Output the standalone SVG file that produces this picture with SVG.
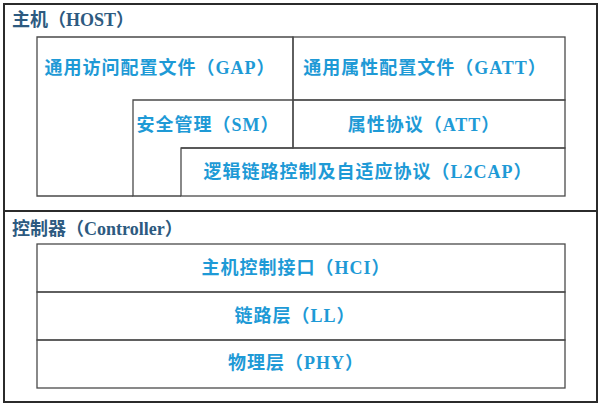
<svg xmlns="http://www.w3.org/2000/svg" width="600" height="407" viewBox="0 0 600 407">
<style>
  .frame{fill:none;stroke:#2b2b2b;stroke-width:2}
  .box{fill:none;stroke:#4a4a4a;stroke-width:1.3}
  .t{font-family:"Liberation Serif","Noto Sans CJK SC",serif;font-weight:bold;font-size:18px;fill:#1e9ad6;text-anchor:middle;dominant-baseline:central;letter-spacing:1px}
  .title{font-family:"Liberation Serif","Noto Sans CJK SC",serif;font-weight:bold;font-size:18px;fill:#2d5a80;dominant-baseline:central}
</style>
<rect width="600" height="407" fill="#ffffff"/>
<g id="host">
  <rect class="frame" x="4" y="4" width="593" height="207"/>
  <text class="title" x="12" y="20">主机（HOST）</text>
</g>
<g id="controller">
  <rect class="frame" x="4" y="211" width="593" height="191"/>
  <text class="title" x="12" y="229">控制器（Controller）</text>
</g>
<g id="gap">
  <polyline class="box" points="293,100 293,37 37,37 37,196 133,196"/>
  <text class="t" x="160" y="68">通用访问配置文件（GAP）</text>
</g>
<g id="gatt">
  <rect class="box" x="293" y="37" width="272" height="63"/>
  <text class="t" x="425" y="68">通用属性配置文件（GATT）</text>
</g>
<g id="sm">
  <polyline class="box" points="181,148 293,148 293,100 133,100 133,196 181,196"/>
  <text class="t" x="208" y="125">安全管理（SM）</text>
</g>
<g id="att">
  <rect class="box" x="293" y="100" width="272" height="48"/>
  <text class="t" x="424" y="125">属性协议（ATT）</text>
</g>
<g id="l2cap">
  <rect class="box" x="181" y="148" width="384" height="48"/>
  <text class="t" x="368" y="172">逻辑链路控制及自适应协议（L2CAP）</text>
</g>
<g id="hci">
  <rect class="box" x="37" y="244" width="528" height="48"/>
  <text class="t" x="296" y="268">主机控制接口（HCI）</text>
</g>
<g id="ll">
  <rect class="box" x="37" y="292" width="528" height="48"/>
  <text class="t" x="295" y="316">链路层（LL）</text>
</g>
<g id="phy">
  <rect class="box" x="37" y="340" width="528" height="48"/>
  <text class="t" x="296" y="363">物理层（PHY）</text>
</g>
<g id="connectors"></g>
</svg>
